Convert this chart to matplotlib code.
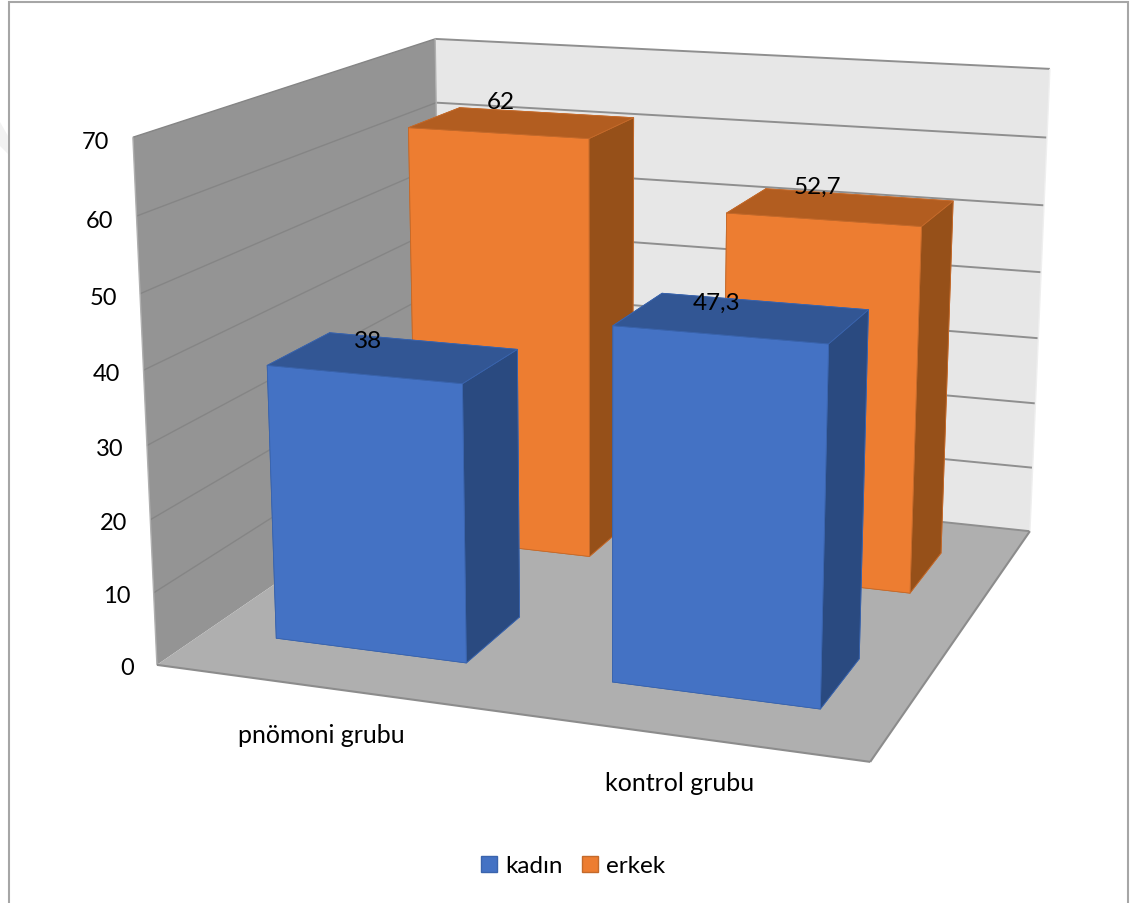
import numpy as np
import matplotlib
matplotlib.use("Agg")
import matplotlib.pyplot as plt
from matplotlib.patches import Patch, Polygon, Rectangle
from mpl_toolkits.mplot3d.art3d import Line3DCollection, Poly3DCollection

plt.rcParams["font.family"] = ["Lato", "DejaVu Sans"]

categories = ["pnömoni grubu", "kontrol grubu"]
kadin = [38, 47.3]
erkek = [62, 52.7]
kadin_labels = ["38", "47,3"]
erkek_labels = ["62", "52,7"]
z_ticks = [0, 10, 20, 30, 40, 50, 60, 70]

W, H = 1135, 904
Z_MAX = 70

# x = category position, y = series depth, both 0..1 across the box
group_x = [0.25, 0.75]
bar_w = 0.288
depth_y = {"kadin": 0.252, "erkek": 0.745}
bar_d = 0.2

# where the value labels sit on top of each bar, in bar widths / depths from its centre
kadin_label_off = [(-0.27, 0.425), (-0.215, 0.425)]
erkek_label_off = [(-0.40, 1.006), (-0.28, 0.80)]
category_x = [0.319, 0.797]
category_y = [-0.153, -0.143]

# box corners on the canvas: (x, y, z) -> (u, v)
anchors = [
    (0, 0, 0, 157, 666), (0, 0, 70, 133, 138),
    (0, 1, 70, 435, 40),
    (1, 1, 0, 1030, 532), (1, 1, 70, 1050, 70),
    (1, 0, 0, 870, 763),
]


def fit_camera(pts):
    rows = []
    for x, y, z, u, v in pts:
        z = z / Z_MAX
        rows.append([x, y, z, 1, 0, 0, 0, 0, -u*x, -u*y, -u*z, -u])
        rows.append([0, 0, 0, 0, x, y, z, 1, -v*x, -v*y, -v*z, -v])
    _, _, vt = np.linalg.svd(np.array(rows, dtype=float))
    P = vt[-1].reshape(3, 4)
    P = P / P[2, 3]
    P[:, 2] /= Z_MAX
    return P


P = fit_camera(anchors)

fig = plt.figure(figsize=(W/100, H/100), dpi=100)
ax = fig.add_axes([0, 0, 1, 1], projection="3d")
ax.computed_zorder = False
ax.apply_aspect = lambda position=None: None
ax.set_axis_off()


def get_proj():
    # camera matrix in canvas pixels -> 2D data coords of the axes, plus a depth row for sorting
    inv = ax.transData.inverted().get_matrix()
    flip = np.array([[1, 0, 0], [0, -1, H], [0, 0, 1]], dtype=float)
    Q = inv @ flip @ P
    depth = np.array([-0.5, 1.0, -0.5/Z_MAX, 0.0])
    return np.vstack([Q[0], Q[1], depth, Q[2]])


ax.get_proj = get_proj

# ------------------------------------
# Walls and floor
# ------------------------------------
walls = [
    ([(0, 0, 0), (0, 1, 0), (0, 1, Z_MAX), (0, 0, Z_MAX)], "#949494"),
    ([(0, 1, 0), (1, 1, 0), (1, 1, Z_MAX), (0, 1, Z_MAX)], "#e7e7e7"),
    ([(0, 0, 0), (1, 0, 0), (1, 1, 0), (0, 1, 0)], "#afafaf"),
]
for verts, col in walls:
    ax.add_collection3d(Poly3DCollection([verts], facecolors=col, edgecolors="none", zorder=1))

# ------------------------------------
# Gridlines and tick labels
# ------------------------------------
left_grid = [[(0, 0, z), (0, 1, z)] for z in z_ticks[1:]]
back_grid = [[(0, 1, z), (1, 1, z)] for z in z_ticks]
ax.add_collection3d(Line3DCollection(left_grid, colors="#858585", linewidths=1.0, zorder=2))
ax.add_collection3d(Line3DCollection(back_grid, colors="#8f8f8f", linewidths=1.4, zorder=2))
edges = [[(0, 0, 0), (0, 0, Z_MAX)], [(0, 1, 0), (0, 1, Z_MAX)], [(1, 1, 0), (1, 1, Z_MAX)]]
ax.add_collection3d(Line3DCollection(edges, colors=["#b0b0b0", "#b0b0b0", "#efefef"], linewidths=1.0, zorder=2))
floor_edge = [[(0, 0, 0), (1, 0, 0)], [(1, 0, 0), (1, 1, 0)]]
ax.add_collection3d(Line3DCollection(floor_edge, colors="#8c8c8c", linewidths=1.5, zorder=2))

for z in z_ticks:
    # labels hang a little under their gridline
    ax.text(-0.035, 0, z - 0.5, str(z), ha="right", va="center_baseline", fontsize=17, color="black", zorder=9)

for name, x, y in zip(categories, category_x, category_y):
    ax.text(x, y, 0, name, ha="center", va="center", fontsize=18, color="black", zorder=9)

# ------------------------------------
# Bars: bottom, top, front, back, left, right
# ------------------------------------
blue_faces = ["#4472c4", "#325694", "#4472c4", "#4472c4", "#2a4a80", "#2a4a80"]
orange_faces = ["#ed7d31", "#b25d20", "#ed7d31", "#ed7d31", "#965019", "#965019"]


def draw_series(values, labels, offsets, y_mid, faces, edge, order):
    for i, v in enumerate(values):
        x0 = group_x[i] - bar_w/2
        y0 = y_mid - bar_d/2
        ax.bar3d(x0, y0, 0, bar_w, bar_d, v, color=faces, shade=False,
                 edgecolor=edge, linewidth=0.6, zorder=order + i)
        ox, oy = offsets[i]
        ax.text(group_x[i] + ox*bar_w, y_mid + oy*bar_d, v, labels[i],
                ha="center", va="center_baseline", fontsize=17.5, color="black", zorder=10)


draw_series(erkek, erkek_labels, erkek_label_off, depth_y["erkek"], orange_faces, "#c46a2b", 3)
draw_series(kadin, kadin_labels, kadin_label_off, depth_y["kadin"], blue_faces, "#3a64ad", 5)

# ------------------------------------
# Frame and legend
# ------------------------------------
fig.add_artist(Rectangle((8.5/W, -0.02), (1128-8.5)/W, 1.02-2.5/H, transform=fig.transFigure,
                         fill=False, edgecolor="#a6a6a6", lw=1.5))
fig.add_artist(Polygon([(0, 1-123/H), (8/W, 1-137/H), (8/W, 1-155/H), (0, 1-147/H)],
                       transform=fig.transFigure, facecolor="#f2f2f2", edgecolor="none"))
handles = [Patch(facecolor="#4472c4", edgecolor="#3a64ad", label="kadın"),
           Patch(facecolor="#ed7d31", edgecolor="#c46a2b", label="erkek")]
fig.legend(handles=handles, loc="center", bbox_to_anchor=(573/W, 1-867/H), ncol=2, frameon=False,
           fontsize=17.5, handlelength=0.66, handleheight=0.66, handletextpad=0.33, columnspacing=0.8)

fig.savefig("out.png", dpi=100)
